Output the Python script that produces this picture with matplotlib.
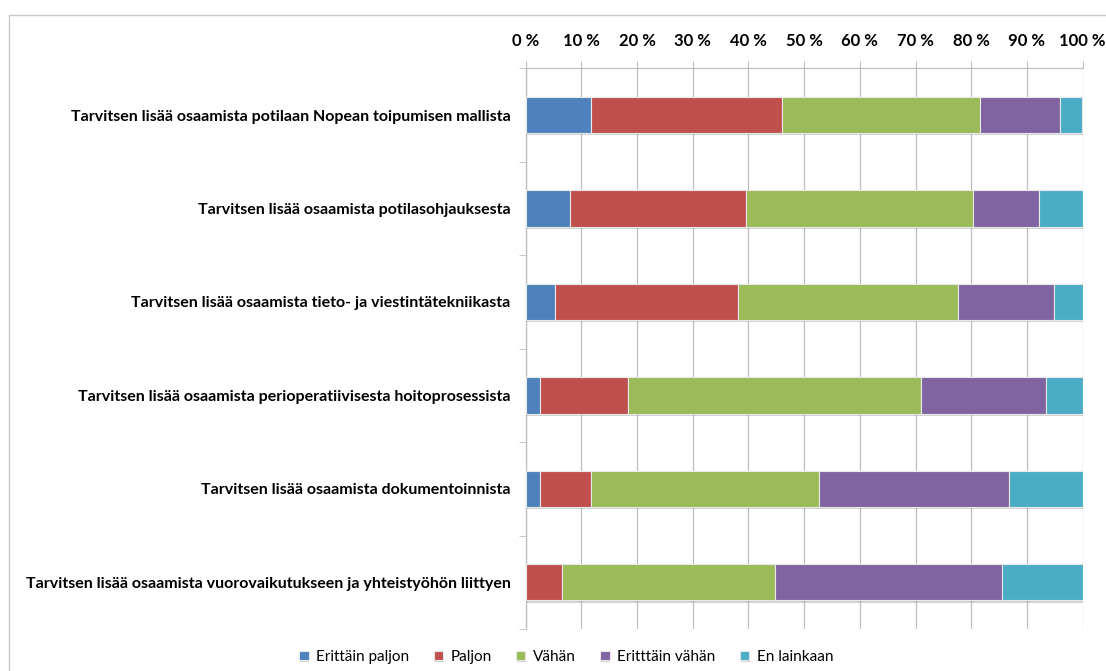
import matplotlib
matplotlib.use("Agg")
import matplotlib.pyplot as plt
import matplotlib.patheffects as pe
from matplotlib.patches import Rectangle
from matplotlib.ticker import FixedLocator

statements = [
    "Tarvitsen lisää osaamista potilaan Nopean toipumisen mallista",
    "Tarvitsen lisää osaamista potilasohjauksesta",
    "Tarvitsen lisää osaamista tieto- ja viestintätekniikasta",
    "Tarvitsen lisää osaamista perioperatiivisesta hoitoprosessista",
    "Tarvitsen lisää osaamista dokumentoinnista",
    "Tarvitsen lisää osaamista vuorovaikutukseen ja yhteistyöhön liittyen",
]

# share of answers (%) per statement
erittain_paljon = [11.8, 7.9, 5.3, 2.6, 2.6, 0.0]
paljon = [34.2, 31.6, 32.9, 15.8, 9.2, 6.6]
vahan = [35.5, 40.8, 39.5, 52.6, 40.8, 38.2]
erittain_vahan = [14.5, 11.8, 17.1, 22.4, 34.2, 40.8]
ei_lainkaan = [3.9, 7.9, 5.3, 6.6, 13.2, 14.5]

series_names = ["Erittäin paljon", "Paljon", "Vähän", "Eritttäin vähän", "En lainkaan"]
series_colors = ["#4F81BD", "#C0504D", "#9BBB59", "#8064A2", "#4BACC6"]
series = [erittain_paljon, paljon, vahan, erittain_vahan, ei_lainkaan]

x_ticks = list(range(0, 101, 10))

plt.rcParams["font.family"] = ["Lato", "DejaVu Sans"]

fig = plt.figure(figsize=(11.06, 6.71), dpi=100)
ax = fig.add_axes([0.4753, 0.0626, 0.5036, 0.8356])

grid_col = "#bfbfbf"
y = list(range(len(statements)))
left = [0.0] * len(statements)
shadow = [pe.SimplePatchShadow(offset=(0.5, -1.5), shadow_rgbFace="#808080", alpha=0.35), pe.Normal()]
for name, vals, col in zip(series_names, series, series_colors):
    bars = ax.barh(y, vals, left=left, height=0.39, color=col, edgecolor="#e8e8e8",
                   linewidth=0.8, label=name, zorder=3)
    for b in bars:
        b.set_path_effects(shadow)
    left = [l + v for l, v in zip(left, vals)]

ax.set_xlim(0, 100)
ax.set_ylim(len(statements) - 0.5, -0.5)
ax.xaxis.tick_top()
ax.set_xticks(x_ticks)
ax.set_xticklabels([f"{v} %" for v in x_ticks], fontsize=12, fontweight="bold")
ax.tick_params(axis="x", which="major", direction="out", length=5, color=grid_col, pad=9)
ax.grid(axis="x", color=grid_col, linewidth=0.9, zorder=0)

ax.set_yticks(y)
ax.set_yticklabels(statements, fontsize=11.55, fontweight="bold")
ax.tick_params(axis="y", which="major", length=0, pad=11)
ax.yaxis.set_minor_locator(FixedLocator([i - 0.5 for i in range(len(statements) + 1)]))
ax.tick_params(axis="y", which="minor", direction="out", length=5, color=grid_col)

for side in ("right", "bottom"):
    ax.spines[side].set_visible(False)
for side in ("top", "left"):
    ax.spines[side].set_color(grid_col)
    ax.spines[side].set_linewidth(0.9)

leg = fig.legend(loc="center", bbox_to_anchor=(0.512, 0.021), ncol=5, frameon=False,
                 fontsize=11, handlelength=0.6, handleheight=0.6, handletextpad=0.5,
                 columnspacing=1.6)

# light chart border
fig.patches.append(Rectangle((0.008, -0.02), 1.05, 0.997, transform=fig.transFigure,
                             fill=False, edgecolor="#c8c8c8", linewidth=1.0))

fig.savefig("out.png", dpi=100)
